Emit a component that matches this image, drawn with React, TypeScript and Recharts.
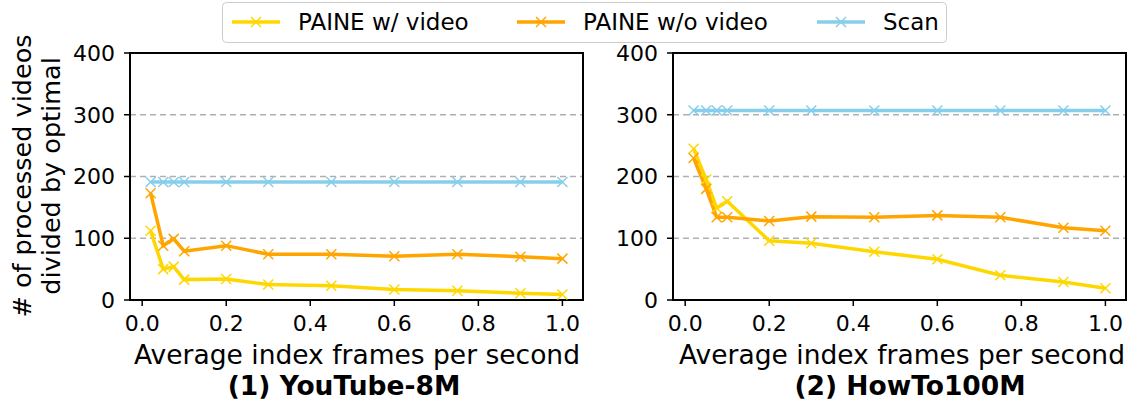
import { LineChart, Line, XAxis, YAxis, CartesianGrid, ReferenceArea } from "recharts";

const FONT = "DejaVu Sans";

// index frames per second (x)
const fpsValues = [0.02, 0.05, 0.075, 0.1, 0.2, 0.3, 0.45, 0.6, 0.75, 0.9, 1.0];

// (1) YouTube-8M
const ytWithVideo = [112, 50, 54, 33, 34, 25, 23, 17, 15, 11, 9];
const ytWithoutVideo = [173, 88, 99, 79, 88, 74, 74, 71, 74, 70, 67];
const ytScan = [191, 191, 191, 191, 191, 191, 191, 191, 191, 191, 191];

// (2) HowTo100M
const htWithVideo = [245, 195, 149, 160, 96, 92, 78, 66, 40, 29, 19];
const htWithoutVideo = [230, 180, 134, 134, 128, 135, 134, 137, 134, 117, 112];
const htScan = [307, 307, 307, 307, 307, 307, 307, 307, 307, 307, 307];

const xTicks = [0, 0.2, 0.4, 0.6, 0.8, 1.0];
const yTicks = [0, 100, 200, 300, 400];
const xDomain: [number, number] = [-0.029, 1.049];

const series = [
  { key: "withVideo", name: "PAINE w/ video", color: "#FFD700" },
  { key: "withoutVideo", name: "PAINE w/o video", color: "#FFA500" },
  { key: "scan", name: "Scan", color: "#87CEEB" },
];

const ytData = fpsValues.map((x, i) => ({
  x,
  withVideo: ytWithVideo[i],
  withoutVideo: ytWithoutVideo[i],
  scan: ytScan[i],
}));
const htData = fpsValues.map((x, i) => ({
  x,
  withVideo: htWithVideo[i],
  withoutVideo: htWithoutVideo[i],
  scan: htScan[i],
}));

function XMark(props: any) {
  const { cx, cy, stroke } = props;
  if (cx == null || cy == null) return null;
  const r = 5;
  return (
    <g>
      <line x1={cx - r} y1={cy - r} x2={cx + r} y2={cy + r} stroke={stroke} strokeWidth={1.5} />
      <line x1={cx - r} y1={cy + r} x2={cx + r} y2={cy - r} stroke={stroke} strokeWidth={1.5} />
    </g>
  );
}

function Panel({ data, left, width, yAxisWidth }: { data: any[]; left: number; width: number; yAxisWidth: number }) {
  const tickStyle = { fontSize: 22, fill: "#000", fontFamily: FONT };
  return (
    <div style={{ position: "absolute", left, top: 0 }}>
      <LineChart
        width={width}
        height={400}
        data={data}
        margin={{ top: 53, right: 7, bottom: 70, left: 0 }}
        style={{ fontFamily: FONT }}
      >
        <CartesianGrid vertical={false} stroke="#b0b0b0" strokeDasharray="6 4" strokeWidth={1.3} />
        <XAxis
          dataKey="x"
          type="number"
          domain={xDomain}
          ticks={xTicks}
          allowDataOverflow
          tickFormatter={(v: number) => v.toFixed(1)}
          height={30}
          tick={tickStyle}
          tickSize={6}
          tickMargin={9}
          axisLine={{ stroke: "#000", strokeWidth: 2 }}
          tickLine={{ stroke: "#000", strokeWidth: 1.5 }}
        />
        <YAxis
          domain={[0, 400]}
          ticks={yTicks}
          width={yAxisWidth}
          tick={tickStyle}
          tickSize={6}
          tickMargin={9}
          axisLine={{ stroke: "#000", strokeWidth: 2 }}
          tickLine={{ stroke: "#000", strokeWidth: 1.5 }}
        />
        {series.map((s) => (
          <Line
            key={s.key}
            dataKey={s.key}
            name={s.name}
            stroke={s.color}
            strokeWidth={3.5}
            dot={<XMark />}
            activeDot={false}
            isAnimationActive={false}
          />
        ))}
        <ReferenceArea
          x1={xDomain[0]}
          x2={xDomain[1]}
          y1={0}
          y2={400}
          fill="none"
          stroke="#000"
          strokeWidth={2}
          ifOverflow="visible"
        />
      </LineChart>
    </div>
  );
}

// legend handle start x for each entry (px on page)
const legendHandleX = [232, 517, 817];

function LegendBox() {
  return (
    <svg width={1133} height={46} style={{ position: "absolute", left: 0, top: 0 }}>
      <rect x={222.5} y={2.5} width={724} height={40} rx={4} fill="#fff" stroke="#cccccc" strokeWidth={1} />
      {series.map((s, i) => {
        const x0 = legendHandleX[i];
        return (
          <g key={s.key}>
            <line x1={x0} y1={22} x2={x0 + 48} y2={22} stroke={s.color} strokeWidth={3.5} />
            <line x1={x0 + 19} y1={17} x2={x0 + 29} y2={27} stroke={s.color} strokeWidth={1.5} />
            <line x1={x0 + 19} y1={27} x2={x0 + 29} y2={17} stroke={s.color} strokeWidth={1.5} />
            <text x={x0 + 66} y={22} fontFamily={FONT} fontSize={23} fill="#000" dominantBaseline="central">
              {s.name}
            </text>
          </g>
        );
      })}
    </svg>
  );
}

export default function App() {
  return (
    <div style={{ position: "absolute", left: 0, top: 0, width: 1133, height: 400, background: "#fff" }}>
      <Panel data={ytData} left={0} width={590} yAxisWidth={130} />
      <Panel data={htData} left={590} width={543} yAxisWidth={83} />
      <LegendBox />
      <svg width={1133} height={400} style={{ position: "absolute", left: 0, top: 0, pointerEvents: "none" }}>
        <g fontFamily={FONT} fill="#000" textAnchor="middle">
          <text x={22} y={176} fontSize={25.5} transform="rotate(-90 22 176)" dominantBaseline="central">
            # of processed videos
          </text>
          <text x={51} y={176} fontSize={25.5} transform="rotate(-90 51 176)" dominantBaseline="central">
            divided by optimal
          </text>
          <text x={357} y={354} fontSize={26.5} dominantBaseline="central">Average index frames per second</text>
          <text x={902} y={354} fontSize={26.5} dominantBaseline="central">Average index frames per second</text>
          <text x={344} y={385} fontSize={26.5} dominantBaseline="central" fontWeight="bold">(1) YouTube-8M</text>
          <text x={910} y={385} fontSize={26.5} dominantBaseline="central" fontWeight="bold">(2) HowTo100M</text>
        </g>
      </svg>
    </div>
  );
}
